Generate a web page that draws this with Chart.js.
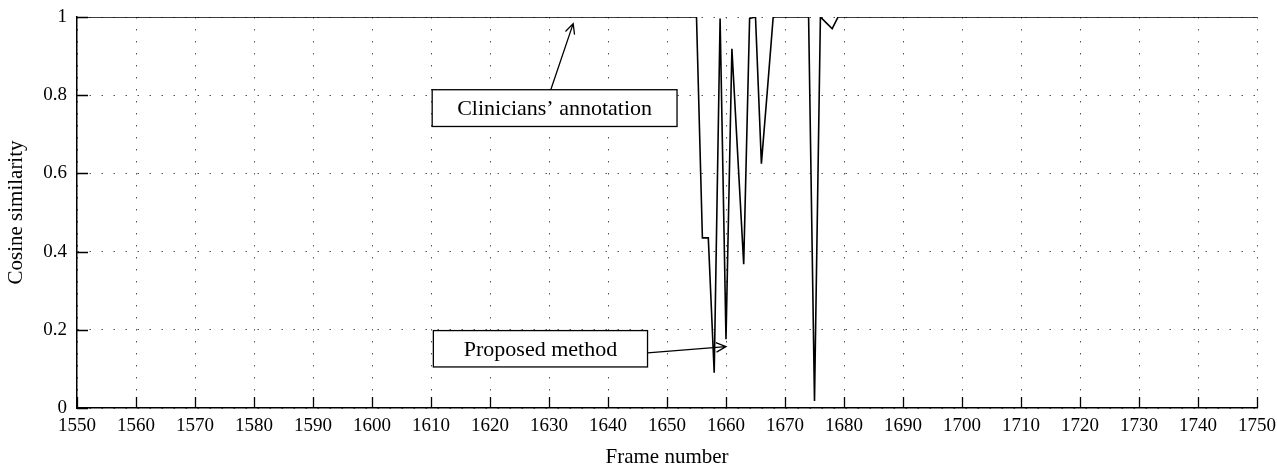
<!DOCTYPE html>
<html lang="en">
<head>
    <meta charset="UTF-8">
    <title>Cosine similarity</title>
    <script src="https://cdn.jsdelivr.net/npm/chart.js"></script>
    <style>
        html, body { margin: 0; padding: 0; background: #fff; }
        #wrap { width: 1277px; height: 466px; }
    </style>
</head>
<body>
    <div id="wrap"><canvas id="simChart"></canvas></div>

    <script>
        // frame numbers where the curve changes, and the similarity there
        const frames = [1550, 1655, 1656, 1657, 1658, 1659, 1660, 1661, 1663, 1664, 1665,
                        1666, 1667, 1668, 1674, 1675, 1676, 1677, 1678, 1679, 1750];
        const similarity = [1, 1, 0.435, 0.435, 0.09, 0.996, 0.176, 0.919, 0.368, 0.996, 1,
                            0.625, 0.81, 1, 1, 0.018, 1, 0.985, 0.97, 1, 1];

        const xTicks = [1550, 1560, 1570, 1580, 1590, 1600, 1610, 1620, 1630, 1640, 1650,
                        1660, 1670, 1680, 1690, 1700, 1710, 1720, 1730, 1740, 1750];
        const yTicks = [0, 0.2, 0.4, 0.6, 0.8, 1];

        const serif = "'Liberation Serif', 'DejaVu Serif', serif";

        // text boxes with arrows, in data units
        const notes = [
            { text: "Clinicians\u2019 annotation", x1: 1610.2, x2: 1651.7, y1: 0.814, y2: 0.72,
              from: [1630.3, 0.814], to: [1634.1, 0.983] },
            { text: "Proposed method", x1: 1610.4, x2: 1646.7, y1: 0.198, y2: 0.105,
              from: [1646.7, 0.141], to: [1660.0, 0.157] }
        ];

        // ticks drawn inside the plot, like the original figure
        const innerTicks = {
            id: 'innerTicks',
            afterDraw(chart) {
                const ctx = chart.ctx;
                const a = chart.chartArea;
                const xs = chart.scales.x, ys = chart.scales.y;
                ctx.save();
                ctx.strokeStyle = '#000';
                ctx.lineWidth = 1.3;
                ctx.beginPath();
                xTicks.forEach(v => {
                    const px = Math.round(xs.getPixelForValue(v)) + 0.5;
                    ctx.moveTo(px, a.bottom);
                    ctx.lineTo(px, a.bottom - 11);
                });
                yTicks.forEach(v => {
                    const py = Math.round(ys.getPixelForValue(v)) + 0.5;
                    ctx.moveTo(a.left, py);
                    ctx.lineTo(a.left + 11, py);
                });
                ctx.stroke();
                ctx.restore();
            }
        };

        function arrow(ctx, x0, y0, x1, y1) {
            const ang = Math.atan2(y1 - y0, x1 - x0);
            const len = 11;
            ctx.beginPath();
            ctx.moveTo(x0, y0);
            ctx.lineTo(x1, y1);
            ctx.moveTo(x1 - len * Math.cos(ang - 0.45), y1 - len * Math.sin(ang - 0.45));
            ctx.lineTo(x1, y1);
            ctx.lineTo(x1 - len * Math.cos(ang + 0.45), y1 - len * Math.sin(ang + 0.45));
            ctx.stroke();
        }

        const notesPlugin = {
            id: 'notes',
            afterDraw(chart) {
                const ctx = chart.ctx;
                const xs = chart.scales.x, ys = chart.scales.y;
                ctx.save();
                ctx.strokeStyle = '#000';
                ctx.lineWidth = 1.3;
                notes.forEach(n => {
                    const l = xs.getPixelForValue(n.x1), r = xs.getPixelForValue(n.x2);
                    const t = ys.getPixelForValue(n.y1), b = ys.getPixelForValue(n.y2);
                    ctx.fillStyle = '#fff';
                    ctx.fillRect(l, t, r - l, b - t);
                    ctx.strokeRect(l, t, r - l, b - t);
                    ctx.fillStyle = '#000';
                    ctx.font = '22px ' + serif;
                    ctx.textAlign = 'center';
                    ctx.textBaseline = 'middle';
                    ctx.fillText(n.text, (l + r) / 2, (t + b) / 2 + 1);
                    arrow(ctx, xs.getPixelForValue(n.from[0]), ys.getPixelForValue(n.from[1]),
                          xs.getPixelForValue(n.to[0]), ys.getPixelForValue(n.to[1]));
                });
                ctx.restore();
            }
        };

        const ctx = document.getElementById('simChart').getContext('2d');
        new Chart(ctx, {
            type: 'line',
            data: {
                datasets: [{
                    data: frames.map((f, i) => ({ x: f, y: similarity[i] })),
                    borderColor: '#000',
                    borderWidth: 1.6,
                    pointRadius: 0,
                    fill: false,
                    tension: 0
                }]
            },
            options: {
                responsive: true,
                maintainAspectRatio: false,
                animation: false,
                events: [],
                layout: { padding: { left: 0, right: 20, top: 17, bottom: 0 } },
                plugins: {
                    legend: { display: false },
                    tooltip: { enabled: false }
                },
                scales: {
                    x: {
                        type: 'linear',
                        min: 1550,
                        max: 1750,
                        afterBuildTicks: s => { s.ticks = xTicks.map(v => ({ value: v })); },
                        afterFit: s => { s.height = 58; s.paddingLeft = 0; s.paddingRight = 0; },
                        ticks: {
                            color: '#000',
                            font: { family: serif, size: 19 },
                            padding: 7,
                            maxRotation: 0,
                            autoSkip: false,
                            callback: v => String(v)
                        },
                        grid: { color: '#555', lineWidth: 1, drawTicks: false },
                        border: { display: true, color: '#000', width: 1.5, dash: [1.5, 10.5] },
                        title: {
                            display: true,
                            text: 'Frame number',
                            color: '#000',
                            font: { family: serif, size: 21, lineHeight: 0.8 },
                            padding: { top: 0, bottom: 0 }
                        }
                    },
                    y: {
                        min: 0,
                        max: 1,
                        afterBuildTicks: s => { s.ticks = yTicks.map(v => ({ value: v })); },
                        afterFit: s => { s.width = 77; s.paddingTop = 0; s.paddingBottom = 0; },
                        ticks: {
                            color: '#000',
                            font: { family: serif, size: 19 },
                            padding: 10,
                            callback: v => String(v)
                        },
                        grid: { color: '#555', lineWidth: 1, drawTicks: false },
                        border: { display: true, color: '#000', width: 1.5, dash: [1.5, 10.5] },
                        title: {
                            display: true,
                            text: 'Cosine similarity',
                            color: '#000',
                            font: { family: serif, size: 21 },
                            padding: { top: 4, bottom: 0 }
                        }
                    }
                }
            },
            plugins: [innerTicks, notesPlugin]
        });
    </script>
</body>
</html>
